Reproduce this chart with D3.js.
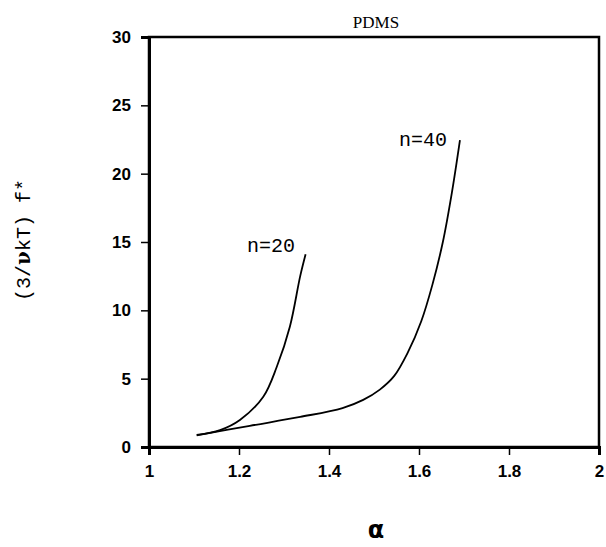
<!DOCTYPE html>
<html>
<head>
<meta charset="utf-8">
<script src="https://cdn.jsdelivr.net/npm/d3@7"></script>
<style>
  body { margin: 0; background: #fff; }
  .tick text { font-family: "Liberation Sans", Arial, sans-serif; font-weight: bold; font-size: 17px; }
  .mono { font-family: "Liberation Mono", "DejaVu Sans Mono", monospace; }
</style>
</head>
<body>
<div id="chart"></div>
<script>
// values
var xTicks = [1, 1.2, 1.4, 1.6, 1.8, 2];
var yTicks = [0, 5, 10, 15, 20, 25, 30];

var n20Alpha = [1.106, 1.158, 1.202, 1.254, 1.284, 1.313, 1.336, 1.348];
var n20F     = [0.88, 1.24, 1.98, 3.68, 5.87, 8.8, 12.5, 14.1];

var n40Alpha = [1.106, 1.224, 1.336, 1.43, 1.476, 1.513, 1.545, 1.575, 1.605, 1.630, 1.653, 1.673, 1.691];
var n40F     = [0.85, 1.55, 2.2, 2.85, 3.45, 4.2, 5.2, 6.9, 9.2, 11.9, 15.0, 18.6, 22.46];

var width = 606, height = 547;
var svg = d3.select("#chart").append("svg").attr("width", width).attr("height", height);

var x = d3.scaleLinear().domain([1, 2]).range([149, 599]);
var y = d3.scaleLinear().domain([0, 30]).range([447, 37]);

// frame
svg.append("rect")
    .attr("x", x(1)).attr("y", y(30))
    .attr("width", x(2) - x(1)).attr("height", y(0) - y(30))
    .attr("fill", "none").attr("stroke", "#000").attr("stroke-width", 2.5);

var xAxis = svg.append("g")
    .attr("transform", "translate(0," + y(0) + ")")
    .call(d3.axisBottom(x).tickValues(xTicks).tickFormat(d3.format("")).tickSize(8).tickPadding(10));
var yAxis = svg.append("g")
    .attr("transform", "translate(" + x(1) + ",0)")
    .call(d3.axisLeft(y).tickValues(yTicks).tickSize(8).tickPadding(10));

[xAxis, yAxis].forEach(function(a) {
  a.select(".domain").attr("stroke-width", 3);
  a.selectAll(".tick line").attr("stroke-width", 1.5);
});

var line = d3.line()
    .x(function(d) { return x(d[0]); })
    .y(function(d) { return y(d[1]); })
    .curve(d3.curveCatmullRom.alpha(0.5));

svg.append("path")
    .datum(d3.zip(n20Alpha, n20F))
    .attr("d", line)
    .attr("fill", "none").attr("stroke", "#000").attr("stroke-width", 1.8);

svg.append("path")
    .datum(d3.zip(n40Alpha, n40F))
    .attr("d", line)
    .attr("fill", "none").attr("stroke", "#000").attr("stroke-width", 1.8);

// labels
svg.append("text").attr("class", "mono")
    .attr("x", 271).attr("y", 252).attr("text-anchor", "middle")
    .attr("font-size", 20).text("n=20");
svg.append("text").attr("class", "mono")
    .attr("x", 423).attr("y", 146).attr("text-anchor", "middle")
    .attr("font-size", 20).text("n=40");

svg.append("text")
    .attr("x", 376).attr("y", 28).attr("text-anchor", "middle")
    .attr("font-family", "Liberation Serif").attr("font-size", 17).text("PDMS");

var yl = svg.append("text").attr("class", "mono")
    .attr("transform", "translate(30,240) rotate(-90)")
    .attr("text-anchor", "middle").attr("font-size", 20);
yl.append("tspan").text("(3/");
yl.append("tspan").attr("font-weight", "bold").attr("font-family", "DejaVu Serif").text("ν");
yl.append("tspan").text("kT) f*");

svg.append("text")
    .attr("x", 376).attr("y", 538).attr("text-anchor", "middle")
    .attr("font-family", "DejaVu Sans").attr("font-weight", "bold")
    .attr("font-size", 24).text("α");
</script>
</body>
</html>
